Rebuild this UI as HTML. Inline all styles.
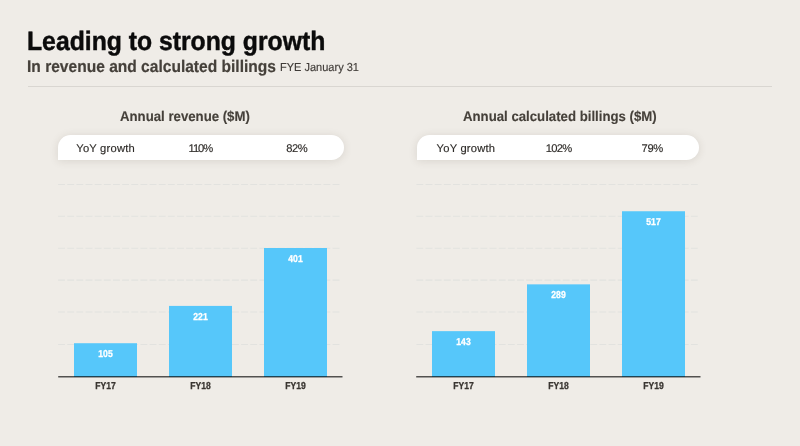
<!DOCTYPE html>
<html lang="en">
<head>
<meta charset="utf-8">
<title>Leading to strong growth</title>
<style>
html,body{margin:0;padding:0;}
body{width:800px;height:446px;overflow:hidden;background:#efece7;font-family:"Liberation Sans",sans-serif;position:relative;text-rendering:geometricPrecision;}
.abs{position:absolute;white-space:nowrap;line-height:1;}
h1{position:absolute;margin:0;left:27.3px;top:27.3px;font-size:26.6px;line-height:1;font-weight:bold;color:#0b0b0b;white-space:nowrap;-webkit-text-stroke:0.45px #0b0b0b;transform-origin:0 0;transform:translateY(0.5px) scaleX(0.9305);}
.sub{left:27.2px;top:58.9px;font-size:16.8px;font-weight:bold;color:#45403a;-webkit-text-stroke:0.2px #45403a;transform-origin:0 0;transform:scaleX(0.927);}
.sub2{left:280.2px;top:62px;font-size:11.6px;color:#3f3b37;-webkit-text-stroke:0.15px #3f3b37;transform-origin:0 0;transform:scaleX(0.95);}
.rule{position:absolute;left:28px;top:86px;width:744px;height:1px;background:#d9d6d1;}
.ct{font-size:14px;font-weight:bold;color:#45403a;-webkit-text-stroke:0.12px #45403a;transform-origin:0 0;transform:scaleX(0.943);}
.pill{position:absolute;top:135px;height:25px;background:#fff;border-radius:12.5px 12.5px 12.5px 0;box-shadow:0 1px 9px rgba(70,55,40,0.13);}
.pt{font-size:11.2px;color:#2f2c29;top:144.4px;-webkit-text-stroke:0.15px #2f2c29;}
.bl{position:absolute;width:63px;text-align:center;font-size:10px;font-weight:bold;color:#fff;line-height:1;transform:scaleX(0.86);-webkit-text-stroke:0.3px #fff;}
.xl{position:absolute;width:63px;top:382.2px;-webkit-text-stroke:0.3px #3a3632;text-align:center;font-size:10.1px;font-weight:bold;color:#3a3632;line-height:1;transform:scaleX(0.85);}
</style>
</head>
<body>
<h1>Leading to strong growth</h1>
<div class="abs sub">In revenue and calculated billings</div>
<div class="abs sub2">FYE January 31</div>
<div class="rule"></div>

<div class="abs ct" style="left:120px;top:108.9px;">Annual revenue ($M)</div>
<div class="abs ct" style="left:462.6px;top:108.9px;">Annual calculated billings ($M)</div>

<div class="pill" style="left:58px;width:286px;"></div>
<div class="abs pt" style="left:76.3px;letter-spacing:0.2px;">YoY growth</div>
<div class="abs pt" style="left:188.6px;letter-spacing:-1.1px;">110%</div>
<div class="abs pt" style="left:286.2px;letter-spacing:-0.5px;">82%</div>

<div class="pill" style="left:417px;width:282px;"></div>
<div class="abs pt" style="left:436.6px;letter-spacing:0.2px;">YoY growth</div>
<div class="abs pt" style="left:545.8px;letter-spacing:-0.75px;">102%</div>
<div class="abs pt" style="left:641.5px;letter-spacing:-0.3px;">79%</div>

<svg class="abs" style="left:0;top:0;" width="800" height="446" viewBox="0 0 800 446">
<g stroke="#e2e2df" stroke-width="1.05" stroke-dasharray="6.85 2.3" fill="none">
<path d="M58.1 184.4H340.1"/>
<path d="M58.1 216.3H340.1"/>
<path d="M58.1 248.3H340.1"/>
<path d="M58.1 280.1H340.1"/>
<path d="M58.1 312H340.1"/>
<path d="M58.1 344.4H340.1"/>
<path d="M416.4 184.4H698.4"/>
<path d="M416.4 216.3H698.4"/>
<path d="M416.4 248.3H698.4"/>
<path d="M416.4 280.1H698.4"/>
<path d="M416.4 312H698.4"/>
<path d="M416.4 344.4H698.4"/>
</g>
<g fill="#56c7fa">
<rect x="74" y="343.22" width="63" height="33.78"/>
<rect x="169" y="305.91" width="63" height="71.09"/>
<rect x="264" y="248.00" width="63" height="129.00"/>
<rect x="432" y="331.15" width="63" height="45.85"/>
<rect x="527" y="284.35" width="63" height="92.65"/>
<rect x="622" y="211.25" width="63" height="165.75"/>
</g>
<g stroke="#000" stroke-opacity="0.66" stroke-width="1.4" fill="none"><path d="M58.2 376.8H342.5"/><path d="M416.2 376.8H700.5"/></g>
</svg>
<div class="bl" style="left:74px;top:350.12px;">105</div>
<div class="bl" style="left:169px;top:312.81px;">221</div>
<div class="bl" style="left:264px;top:254.90px;">401</div>
<div class="bl" style="left:432px;top:338.05px;">143</div>
<div class="bl" style="left:527px;top:291.25px;">289</div>
<div class="bl" style="left:622px;top:218.15px;">517</div>

<div class="xl" style="left:74px;">FY17</div>
<div class="xl" style="left:169px;">FY18</div>
<div class="xl" style="left:264px;">FY19</div>
<div class="xl" style="left:432px;">FY17</div>
<div class="xl" style="left:527px;">FY18</div>
<div class="xl" style="left:622px;">FY19</div>
</body>
</html>
